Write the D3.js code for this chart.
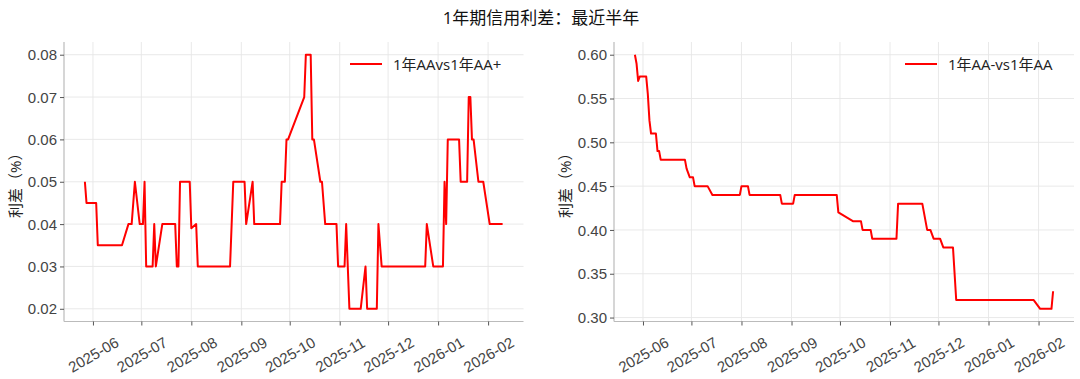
<!DOCTYPE html>
<html>
<head>
<meta charset="utf-8">
<script src="https://cdn.jsdelivr.net/npm/d3@7"></script>
<style>
    body { margin: 0; background: #fff; }
    svg { display: block; font-family: "Open Sans", "Noto Sans CJK SC", sans-serif; }
</style>
</head>
<body>
<div id="chart"></div>
<script>
const title = '1年期信用利差：最近半年';
const yLabel = '利差（%）';

// 1年AA vs 1年AA+ : change points
const leftName = '1年AAvs1年AA+';
const leftDates = [
    '2025-05-27', '2025-05-28', '2025-06-03', '2025-06-04', '2025-06-19', '2025-06-23', '2025-06-25', '2025-06-27',
    '2025-06-30', '2025-07-02', '2025-07-03', '2025-07-04', '2025-07-08', '2025-07-09', '2025-07-10', '2025-07-14',
    '2025-07-22', '2025-07-23', '2025-07-24', '2025-07-25', '2025-07-31', '2025-08-01', '2025-08-04', '2025-08-05',
    '2025-08-25', '2025-08-27', '2025-09-03', '2025-09-04', '2025-09-08', '2025-09-09', '2025-09-25', '2025-09-26',
    '2025-09-28', '2025-09-29', '2025-09-30', '2025-10-10', '2025-10-11', '2025-10-14', '2025-10-15', '2025-10-16',
    '2025-10-20', '2025-10-21', '2025-10-23', '2025-10-30', '2025-10-31', '2025-11-04', '2025-11-05', '2025-11-07',
    '2025-11-14', '2025-11-17', '2025-11-18', '2025-11-24', '2025-11-25', '2025-11-27', '2025-12-24', '2025-12-25',
    '2025-12-29', '2026-01-04', '2026-01-05', '2026-01-06', '2026-01-07', '2026-01-14', '2026-01-15', '2026-01-19',
    '2026-01-20', '2026-01-21', '2026-01-22', '2026-01-23', '2026-01-26', '2026-01-29', '2026-02-02', '2026-02-10'
];
const leftValues = [
    0.050, 0.045, 0.045, 0.035, 0.035, 0.040, 0.040, 0.050,
    0.040, 0.040, 0.050, 0.030, 0.030, 0.040, 0.030, 0.040,
    0.040, 0.030, 0.030, 0.050, 0.050, 0.039, 0.040, 0.030,
    0.030, 0.050, 0.050, 0.040, 0.050, 0.040, 0.040, 0.050,
    0.050, 0.060, 0.060, 0.070, 0.080, 0.080, 0.060, 0.060,
    0.050, 0.050, 0.040, 0.040, 0.030, 0.030, 0.040, 0.020,
    0.020, 0.030, 0.020, 0.020, 0.040, 0.030, 0.030, 0.040,
    0.030, 0.030, 0.050, 0.040, 0.060, 0.060, 0.050, 0.050,
    0.070, 0.070, 0.060, 0.060, 0.050, 0.050, 0.040, 0.040
];
const leftTicks = [0.02, 0.03, 0.04, 0.05, 0.06, 0.07, 0.08];

// 1年AA- vs 1年AA
const rightName = '1年AA-vs1年AA';
const rightDates = [
    '2025-05-27', '2025-05-28', '2025-05-29', '2025-05-30', '2025-06-03', '2025-06-04', '2025-06-05', '2025-06-06',
    '2025-06-09', '2025-06-10', '2025-06-11', '2025-06-12', '2025-06-27', '2025-06-28', '2025-06-30', '2025-07-02',
    '2025-07-03', '2025-07-11', '2025-07-14', '2025-07-31', '2025-08-01', '2025-08-05', '2025-08-06', '2025-08-25',
    '2025-08-26', '2025-09-02', '2025-09-03', '2025-09-29', '2025-09-30', '2025-10-09', '2025-10-14', '2025-10-15',
    '2025-10-20', '2025-10-21', '2025-11-05', '2025-11-06', '2025-11-21', '2025-11-24', '2025-11-26', '2025-11-28',
    '2025-12-02', '2025-12-04', '2025-12-10', '2025-12-12', '2026-01-29', '2026-02-02', '2026-02-09', '2026-02-10'
];
const rightValues = [
    0.600, 0.590, 0.570, 0.575, 0.575, 0.555, 0.525, 0.510,
    0.510, 0.490, 0.490, 0.480, 0.480, 0.470, 0.460, 0.460,
    0.450, 0.450, 0.440, 0.440, 0.450, 0.450, 0.440, 0.440,
    0.430, 0.430, 0.440, 0.440, 0.420, 0.410, 0.410, 0.400,
    0.400, 0.390, 0.390, 0.430, 0.430, 0.400, 0.400, 0.390,
    0.390, 0.380, 0.380, 0.320, 0.320, 0.310, 0.310, 0.330
];
const rightTicks = [0.30, 0.35, 0.40, 0.45, 0.50, 0.55, 0.60];

const monthTicks = ['2025-06', '2025-07', '2025-08', '2025-09', '2025-10', '2025-11', '2025-12', '2026-01', '2026-02'];

const W = 1080, H = 379;
const parse = d3.timeParse('%Y-%m-%d');

const svg = d3.select('#chart').append('svg')
    .attr('width', W)
    .attr('height', H);

svg.append('text')
    .attr('x', 541)
    .attr('y', 17)
    .attr('text-anchor', 'middle')
    .attr('dominant-baseline', 'central')
    .attr('font-size', 17)
    .attr('fill', '#111')
    .text(title);

drawPanel({ x0: 64, x1: 523.5, dates: leftDates, values: leftValues, ticks: leftTicks, name: leftName, labelX: 15, legendX: 350 });
drawPanel({ x0: 614, x1: 1074, dates: rightDates, values: rightValues, ticks: rightTicks, name: rightName, labelX: 565, legendX: 905 });

function pad(ext) {
    let m = (ext[1] - ext[0]) * 0.05;
    return [ext[0] - m, ext[1] + m];
}

function drawPanel(p) {
    const y0 = 42, y1 = 321.5;
    let data = p.dates.map((d, i) => ({ date: parse(d), val: p.values[i] }));

    let tExt = d3.extent(data, d => +d.date);
    let tDom = pad(tExt).map(t => new Date(t));
    let x = d3.scaleTime().domain(tDom).range([p.x0, p.x1]);
    let y = d3.scaleLinear().domain(pad(d3.extent(data, d => d.val))).range([y1, y0]);

    let g = svg.append('g');
    let months = monthTicks.map(m => d3.timeParse('%Y-%m')(m));

    // grid
    g.append('g').selectAll('line').data(months).join('line')
        .attr('x1', d => x(d)).attr('x2', d => x(d))
        .attr('y1', y0).attr('y2', y1)
        .attr('stroke', '#e6e6e6').attr('stroke-width', 0.9);
    g.append('g').selectAll('line').data(p.ticks).join('line')
        .attr('x1', p.x0).attr('x2', p.x1)
        .attr('y1', d => y(d)).attr('y2', d => y(d))
        .attr('stroke', '#e6e6e6').attr('stroke-width', 0.9);

    // axes
    let xAxis = d3.axisBottom(x).tickValues(months).tickSize(4).tickPadding(0).tickFormat(d3.timeFormat('%Y-%m'));
    let ax = g.append('g').attr('transform', `translate(0,${y1})`).call(xAxis);
    ax.select('.domain').attr('stroke', '#bbbbbb').attr('stroke-width', 1.2).attr('d', `M${p.x0},0H${p.x1}`);
    ax.selectAll('.tick line').attr('stroke', '#555');
    ax.selectAll('.tick text')
        .attr('font-size', 15)
        .attr('fill', '#444')
        .attr('y', 0)
        .attr('dy', null)
        .attr('text-anchor', 'middle')
        .attr('dominant-baseline', 'central')
        .attr('transform', 'translate(0,33) rotate(-30)');

    let yAxis = d3.axisLeft(y).tickValues(p.ticks).tickSize(4).tickPadding(3).tickFormat(d3.format('.2f'));
    let ay = g.append('g').attr('transform', `translate(${p.x0},0)`).call(yAxis);
    ay.select('.domain').attr('stroke', '#bbbbbb').attr('stroke-width', 1.2).attr('d', `M0,${y0}V${y1}`);
    ay.selectAll('.tick line').attr('stroke', '#555');
    ay.selectAll('.tick text')
        .attr('font-size', 15)
        .attr('fill', '#444')
        .attr('dy', '0.34em');

    g.append('text')
        .attr('transform', `translate(${p.labelX},${(y0 + y1) / 2}) rotate(-90)`)
        .attr('text-anchor', 'middle')
        .attr('dominant-baseline', 'central')
        .attr('font-size', 15)
        .attr('fill', '#222')
        .text(yLabel);

    // series
    let line = d3.line().x(d => x(d.date)).y(d => y(d.val));
    g.append('path')
        .datum(data)
        .attr('d', line)
        .attr('fill', 'none')
        .attr('stroke', '#ff0000')
        .attr('stroke-width', 2)
        .attr('stroke-linejoin', 'round');

    // legend
    let lg = g.append('g').attr('transform', `translate(${p.legendX},64)`);
    lg.append('line').attr('x1', 0).attr('x2', 32).attr('y1', 0).attr('y2', 0)
        .attr('stroke', '#ff0000').attr('stroke-width', 2);
    lg.append('text')
        .attr('x', 43)
        .attr('y', 0)
        .attr('dominant-baseline', 'central')
        .attr('font-size', 15)
        .attr('fill', '#222')
        .text(p.name);
}
</script>
</body>
</html>
